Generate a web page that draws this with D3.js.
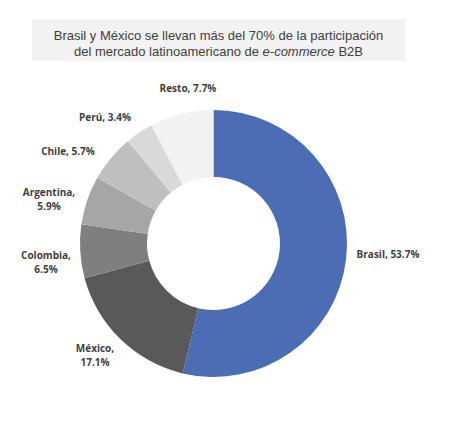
<!DOCTYPE html>
<html><head><meta charset="utf-8">
<script src="https://cdn.jsdelivr.net/npm/d3@7"></script>
<style>body{margin:0;background:#fff}</style>
</head><body>
<script>
const categories = ["Brasil","México","Colombia","Argentina","Chile","Perú","Resto"];
const values = [53.7,17.1,6.5,5.9,5.7,3.4,7.7];
const colors = ["#4a6db3","#595959","#7f7f7f","#a6a6a6","#bfbfbf","#d9d9d9","#f2f2f2"];
const labelLines = [["Brasil, 53.7%"],["México,","17.1%"],["Colombia,","6.5%"],["Argentina,","5.9%"],["Chile, 5.7%"],["Perú, 3.4%"],["Resto, 7.7%"]];
const labelPos = [[388,258],[95,352],[46,259],[49,196],[68,155],[105,121],[188,92]];

const W=454,H=421;
const svg=d3.select("body").append("svg").attr("width",W).attr("height",H);
svg.append("rect").attr("x",32).attr("y",19).attr("width",373).attr("height",42).attr("fill","#f2f2f2");
const t=svg.append("text").attr("text-anchor","middle").attr("font-family","Liberation Sans, Arial, sans-serif").attr("font-size",13).attr("fill","#404040");
t.append("tspan").attr("x",218.5).attr("y",40.3).text("Brasil y México se llevan más del 70% de la participación");
const l2=t.append("tspan").attr("x",218.5).attr("y",56.3);
l2.append("tspan").text("del mercado latinoamericano de ");
l2.append("tspan").attr("font-style","italic").text("e-commerce");
l2.append("tspan").text(" B2B");

const cx=213.5,cy=243.5,R=133.5,r=66.5;
const pie=d3.pie().sort(null).value(d=>d);
const arc=d3.arc().innerRadius(r).outerRadius(R);
const g=svg.append("g").attr("transform",`translate(${cx},${cy})`);
g.selectAll("path").data(pie(values)).join("path").attr("d",arc).attr("fill",(d,i)=>colors[i]);

const lab=svg.append("g").attr("font-family","Open Sans, sans-serif").attr("font-weight","bold").attr("font-size",10).attr("fill","#404040").attr("text-anchor","middle");
categories.forEach((c,i)=>{
  const tx=lab.append("text");
  labelLines[i].forEach((s,j)=>tx.append("tspan").attr("x",labelPos[i][0]).attr("y",labelPos[i][1]+j*13.5).text(s));
});
</script>
</body></html>
